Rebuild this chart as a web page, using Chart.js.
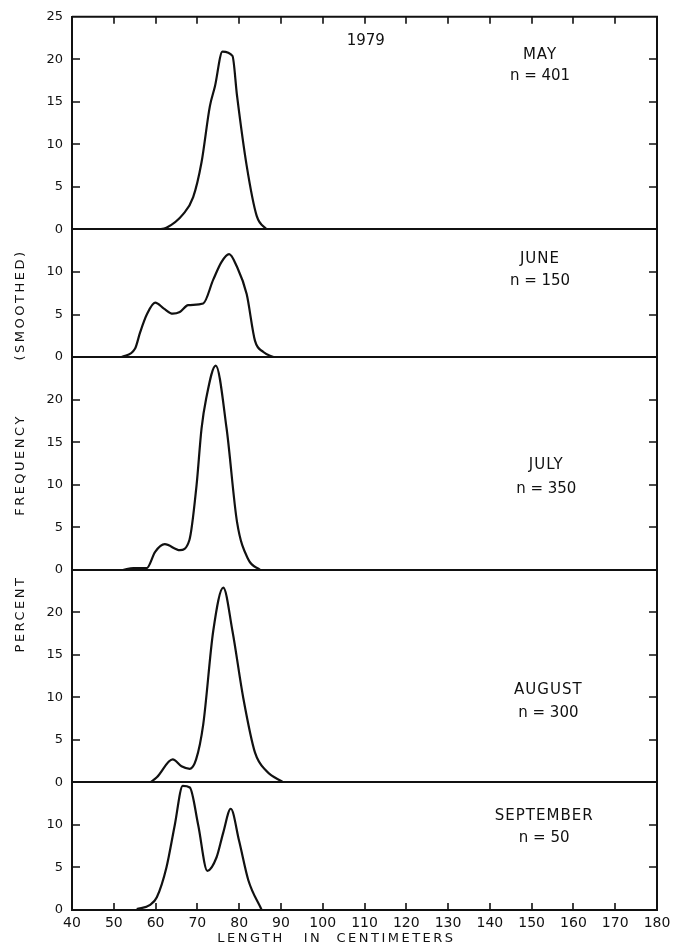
<!DOCTYPE html>
<html>
<head>
<meta charset="utf-8">
<script src="https://cdn.jsdelivr.net/npm/chart.js@4.4.0/dist/chart.umd.min.js"></script>
<style>
  html, body { margin: 0; padding: 0; background: #fff; }
  #wrap { width: 679px; height: 951px; }
</style>
</head>
<body>
<div id="wrap"><canvas id="chart" width="679" height="951"></canvas></div>
<script>
// length (cm) on x, smoothed percent frequency on y, one pair of arrays per month
const xTicks = [40, 50, 60, 70, 80, 90, 100, 110, 120, 130, 140, 150, 160, 170, 180];

const mayX = [60.6, 62.6, 66.6, 69, 71, 73, 74.2, 76, 78.4, 79.5, 81.8, 84.2, 86.6];
const mayY = [0, 0.2, 1.8, 3.8, 7.9, 14.5, 16.8, 20.9, 20.4, 15.7, 7.5, 1.6, 0];

const juneX = [51.9, 55.1, 56.3, 57.9, 59.9, 62, 64.1, 65.8, 67.8, 71.4, 73.8, 75.8, 77.6, 79.4, 81.8, 83.8, 85.8, 88.2];
const juneY = [0, 1.0, 2.9, 5.0, 6.4, 5.7, 5.1, 5.3, 6.1, 6.3, 9.1, 11.2, 12.1, 10.7, 7.4, 1.9, 0.6, 0];

const julyX = [52.3, 54.7, 57.9, 59.9, 62.2, 65.8, 68.1, 69.8, 71, 72.1, 74.4, 77, 79.5, 82.2, 85];
const julyY = [0, 0.2, 0.2, 2.1, 3.0, 2.3, 3.5, 9.9, 16.6, 20.1, 24.0, 16.6, 5.6, 1.2, 0];

const augX = [58.7, 60.3, 64.1, 66.2, 68.2, 69.7, 71.4, 73.8, 76.2, 78.4, 81, 83.8, 86.6, 90.6];
const augY = [0, 0.6, 2.7, 1.9, 1.6, 2.7, 6.8, 17.8, 22.9, 17.8, 9.9, 3.5, 1.3, 0];

const sepX = [55.5, 58.7, 60.3, 62.6, 64.6, 66.5, 68.2, 70.2, 72.4, 74.6, 76.2, 78, 80, 82.2, 85.4];
const sepY = [0.1, 0.6, 1.5, 5.0, 10.0, 14.6, 14.4, 10.0, 4.6, 6.2, 9.1, 11.9, 8.1, 3.5, 0];

const monthNames = ['MAY', 'JUNE', 'JULY', 'AUGUST', 'SEPTEMBER'];
const sampleSizes = [401, 150, 350, 300, 50];
const panelMax = [25, 15, 25, 25, 15];
const axisIds = ['may', 'june', 'july', 'aug', 'sep'];
const seriesX = [mayX, juneX, julyX, augX, sepX];
const seriesY = [mayY, juneY, julyY, augY, sepY];

// where the month / n labels sit, in (length, percent) of each panel
const labelAt = [[152, 20.5, 18.0], [152, 11.5, 8.95], [153.5, 12.3, 9.5], [154, 10.8, 8.2], [153, 11.0, 8.4]];

const ink = '#111';
const tickFont = { family: 'DejaVu Sans', size: 13 };

const datasets = axisIds.map((id, i) => ({
  label: monthNames[i],
  yAxisID: id,
  data: seriesX[i].map((x, j) => ({ x, y: seriesY[i][j] })),
  borderColor: ink,
  borderWidth: 2.2,
  pointRadius: 0,
  fill: false,
  cubicInterpolationMode: 'monotone'
}));

const scales = {
  x: {
    type: 'linear',
    min: 40,
    max: 180,
    afterBuildTicks: s => { s.ticks = xTicks.map(v => ({ value: v })); },
    afterFit: s => { s.height = 41; },
    ticks: { font: { family: 'DejaVu Sans', size: 14 }, color: ink, padding: 5, maxRotation: 0, autoSkip: false },
    grid: { display: false, drawTicks: false },
    border: { display: true, color: ink, width: 2 }
  }
};

// stacked axes are laid out bottom-up, so register September first
[4, 3, 2, 1, 0].forEach(i => {
  scales[axisIds[i]] = {
    type: 'linear',
    position: 'left',
    stack: 'panels',
    stackWeight: panelMax[i],
    min: 0,
    max: panelMax[i],
    afterFit: s => { s.width = 72; },
    ticks: {
      stepSize: 5,
      font: tickFont,
      color: ink,
      padding: 9,
      callback: v => (v === panelMax[i] && i > 0) ? '' : v
    },
    grid: {
      drawTicks: false,
      lineWidth: 2,
      color: c => c.tick && c.tick.value === 0 ? ink : 'rgba(0,0,0,0)'
    },
    border: { display: true, color: ink, width: 2 }
  };
});

const framePlugin = {
  id: 'frame',
  afterDraw(chart) {
    const ctx = chart.ctx;
    const a = chart.chartArea;
    const xs = chart.scales.x;
    ctx.save();
    ctx.strokeStyle = ink;
    ctx.lineWidth = 2;
    ctx.beginPath();
    ctx.moveTo(a.left, a.top);
    ctx.lineTo(a.right, a.top);
    ctx.lineTo(a.right, a.bottom);
    ctx.stroke();

    // inward tick marks
    ctx.lineWidth = 1.6;
    ctx.beginPath();
    xTicks.slice(1, -1).forEach(v => {
      const px = Math.round(xs.getPixelForValue(v));
      ctx.moveTo(px, a.top); ctx.lineTo(px, a.top + 7);
      ctx.moveTo(px, a.bottom); ctx.lineTo(px, a.bottom - 7);
    });
    axisIds.forEach((id, i) => {
      const ys = chart.scales[id];
      for (let v = 5; v < panelMax[i]; v += 5) {
        const py = Math.round(ys.getPixelForValue(v));
        ctx.moveTo(a.left, py); ctx.lineTo(a.left + 8, py);
        ctx.moveTo(a.right, py); ctx.lineTo(a.right - 8, py);
      }
    });
    ctx.stroke();

    // panel labels
    ctx.fillStyle = ink;
    ctx.textAlign = 'center';
    ctx.textBaseline = 'middle';
    ctx.font = '15px "DejaVu Sans"';
    const may = chart.scales.may;
    ctx.fillText('1979', xs.getPixelForValue(110.3), may.getPixelForValue(22.2));
    axisIds.forEach((id, i) => {
      const ys = chart.scales[id];
      const [lx, ly1, ly2] = labelAt[i];
      ctx.font = '15px "DejaVu Sans"';
      ctx.letterSpacing = '1px';
      ctx.fillText(monthNames[i], xs.getPixelForValue(lx), ys.getPixelForValue(ly1));
      ctx.letterSpacing = '0px';
      ctx.fillText('n = ' + sampleSizes[i], xs.getPixelForValue(lx), ys.getPixelForValue(ly2));
    });

    // axis titles, drawn word by word for the wide lettering
    ctx.font = '13px "DejaVu Sans"';
    ctx.letterSpacing = '2.5px';
    [['LENGTH', 251], ['IN', 313], ['CENTIMETERS', 396]].forEach(([w, x]) => {
      ctx.fillText(w, x, 939);
    });
    ctx.translate(21, 0);
    ctx.rotate(-Math.PI / 2);
    [['PERCENT', 614], ['FREQUENCY', 465], ['(SMOOTHED)', 305]].forEach(([w, y]) => {
      ctx.fillText(w, -y, 0);
    });
    ctx.restore();
  }
};

new Chart(document.getElementById('chart'), {
  type: 'line',
  data: { datasets },
  options: {
    responsive: false,
    animation: false,
    devicePixelRatio: 1,
    layout: { padding: { top: 14, right: 22, left: 0, bottom: 0 } },
    plugins: { legend: { display: false }, tooltip: { enabled: false } },
    scales
  },
  plugins: [framePlugin]
});
</script>
</body>
</html>
